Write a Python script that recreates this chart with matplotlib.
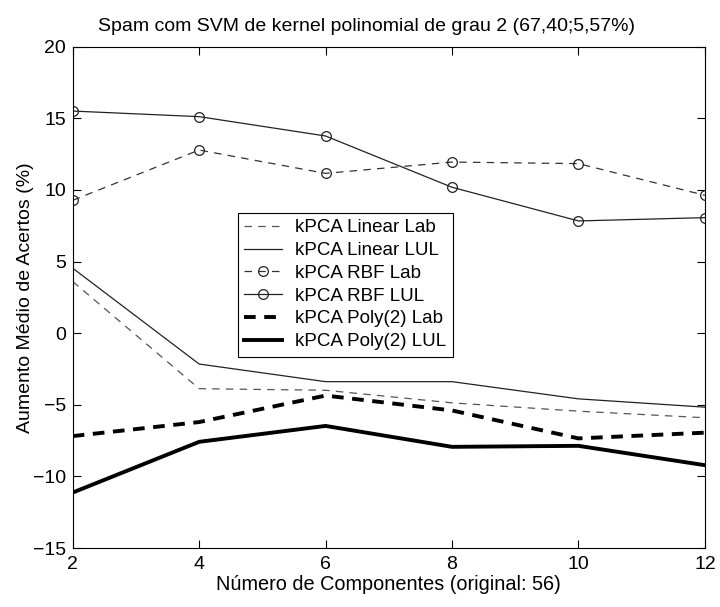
import matplotlib
matplotlib.use("Agg")
import matplotlib.pyplot as plt

plt.rcParams['font.family'] = ['Liberation Sans', 'DejaVu Sans']

# average accuracy gain (%) vs number of components
componentes = [2, 4, 6, 8, 10, 12]
linear_lab = [3.61, -3.87, -3.98, -4.86, -5.44, -5.90]
linear_lul = [4.54, -2.15, -3.38, -3.38, -4.58, -5.16]
rbf_lab = [9.28, 12.79, 11.16, 11.95, 11.84, 9.63]
rbf_lul = [15.51, 15.12, 13.77, 10.19, 7.84, 8.07]
poly_lab = [-7.18, -6.20, -4.35, -5.39, -7.34, -6.94]
poly_lul = [-11.12, -7.58, -6.47, -7.93, -7.86, -9.21]

fig = plt.figure(figsize=(7.2, 6.07), dpi=100)
ax = fig.add_axes([0.101, 0.097, 0.878, 0.826])

ax.plot(componentes, linear_lab, '--', color='#555555', lw=0.9, dashes=(6, 5), label='kPCA Linear Lab')
ax.plot(componentes, linear_lul, '-', color='#222222', lw=0.9, label='kPCA Linear LUL')
ax.plot(componentes, rbf_lab, '--', color='#333333', lw=0.9, dashes=(6, 5), marker='o',
        mfc='none', mec='#222222', ms=7, mew=0.9, label='kPCA RBF Lab')
ax.plot(componentes, rbf_lul, '-', color='#222222', lw=0.9, marker='o',
        mfc='none', mec='#222222', ms=7, mew=0.9, label='kPCA RBF LUL')
ax.plot(componentes, poly_lab, '--', color='black', lw=2.8, dashes=(3, 2.2), label='kPCA Poly(2) Lab')
ax.plot(componentes, poly_lul, '-', color='black', lw=2.8, label='kPCA Poly(2) LUL')

ax.set_xlim(2, 12)
ax.set_ylim(-15, 20)
ax.set_xticks(componentes)
ax.set_yticks(range(-15, 21, 5))
ax.tick_params(direction='in', top=True, right=True, length=6, labelsize=14, pad=6)
ax.tick_params(axis='y', pad=5)
for s in ax.spines.values():
    s.set_linewidth(0.8)

ax.set_title('Spam com SVM de kernel polinomial de grau 2 (67,40;5,57%)', fontsize=14, pad=11, x=0.464)
ax.set_xlabel('Número de Componentes (original: 56)', fontsize=14.3, labelpad=1)
ax.set_ylabel('Aumento Médio de Acertos (%)', fontsize=14, labelpad=-1)

leg = ax.legend(loc='upper left', bbox_to_anchor=(0.261, 0.669), fontsize=13.5,
                frameon=True, fancybox=False, edgecolor='black', framealpha=1,
                handlelength=2.0, borderpad=0.35, labelspacing=0.3, handletextpad=0.7,
                borderaxespad=0)
leg.get_frame().set_linewidth(0.8)

fig.savefig('out.png', dpi=100)
